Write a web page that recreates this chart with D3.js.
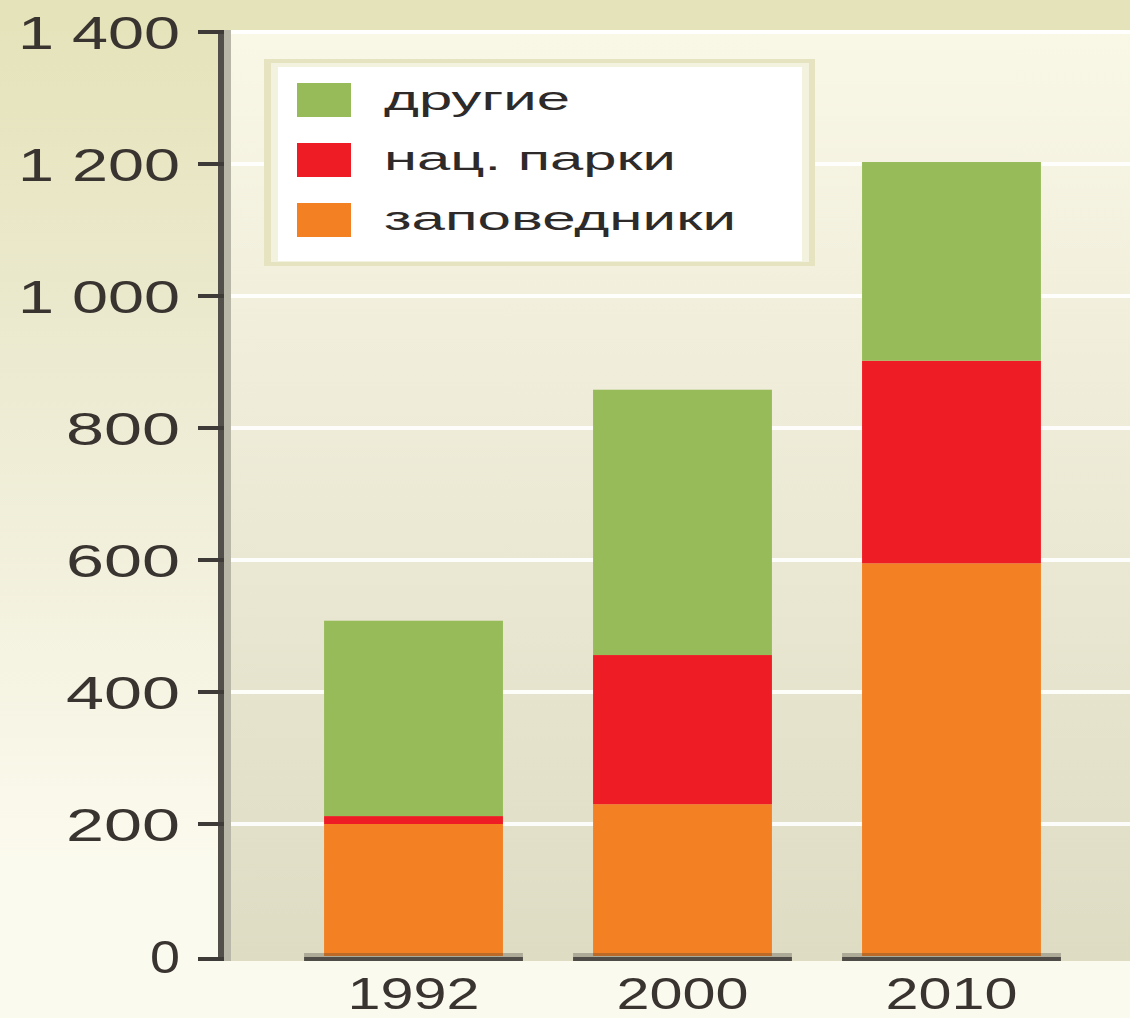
<!DOCTYPE html>
<html><head><meta charset="utf-8">
<script src="https://cdn.jsdelivr.net/npm/d3@7"></script>
<style>html,body{margin:0;padding:0;background:#fbfaee;}svg{display:block;}</style>
</head><body>
<script>
const years = ["1992", "2000", "2010"];
const zapovedniki = [200, 230, 595];
const natParki = [12, 226, 307];
const drugie = [296, 402, 301];
const seriesNames = ["заповедники", "нац. парки", "другие"];
const legendOrder = ["другие", "нац. парки", "заповедники"];
const yTicks = [0, 200, 400, 600, 800, 1000, 1200, 1400];
const yTickLabels = ["0", "200", "400", "600", "800", "1 000", "1 200", "1 400"];

const W = 1130, H = 1018;
const colors = {"заповедники": "#f38123", "нац. парки": "#ee1d25", "другие": "#97bb59"};

const svg = d3.select("body").append("svg").attr("width", W).attr("height", H);
const defs = svg.append("defs");
const gl = defs.append("linearGradient").attr("id", "leftbg").attr("x1", 0).attr("y1", 0).attr("x2", 0).attr("y2", 1);
gl.append("stop").attr("offset", "0").attr("stop-color", "#e5e3b9");
gl.append("stop").attr("offset", "0.35").attr("stop-color", "#ecead0");
gl.append("stop").attr("offset", "0.85").attr("stop-color", "#fbfaee");
gl.append("stop").attr("offset", "1").attr("stop-color", "#fbfaee");
const gp = defs.append("linearGradient").attr("id", "plotbg").attr("x1", 0).attr("y1", 0).attr("x2", 0).attr("y2", 1);
gp.append("stop").attr("offset", "0").attr("stop-color", "#f9f7e6");
gp.append("stop").attr("offset", "0.4").attr("stop-color", "#efecd9");
gp.append("stop").attr("offset", "1").attr("stop-color", "#dedcc3");

// backgrounds
svg.append("rect").attr("x", 0).attr("y", 0).attr("width", W).attr("height", H).attr("fill", "url(#leftbg)");
svg.append("rect").attr("x", 0).attr("y", 0).attr("width", W).attr("height", 30).attr("fill", "#e5e3b9");
svg.append("rect").attr("x", 231).attr("y", 30).attr("width", W - 231).attr("height", 931).attr("fill", "url(#plotbg)");
svg.append("rect").attr("x", 0).attr("y", 961).attr("width", W).attr("height", H - 961).attr("fill", "#fbfaee");

const y = d3.scaleLinear().domain([0, 1400]).range([956, 32]);
const x = d3.scaleBand().domain(years).range([231, 1134]).paddingInner(0.335).paddingOuter(0.346);

// gridlines
svg.append("g").selectAll("line").data(yTicks.filter(d => d > 0)).join("line")
  .attr("x1", 231).attr("x2", W).attr("y1", d => y(d)).attr("y2", d => y(d))
  .attr("stroke", "#ffffff").attr("stroke-opacity", 0.9).attr("stroke-width", 4);

// stacked bars
const table = years.map((yr, i) => ({year: yr, "заповедники": zapovedniki[i], "нац. парки": natParki[i], "другие": drugie[i]}));
const stack = d3.stack().keys(seriesNames)(table);
svg.append("g").selectAll("g").data(stack).join("g").attr("fill", s => colors[s.key])
  .selectAll("rect").data(s => s).join("rect")
  .attr("x", d => x(d.data.year)).attr("width", x.bandwidth())
  .attr("y", d => y(d[1])).attr("height", d => y(d[0]) - y(d[1]));

// base segments under bars
const base = svg.append("g");
base.selectAll("rect.sh").data(years).join("rect").attr("class", "sh")
  .attr("x", d => x(d) - 20).attr("width", x.bandwidth() + 40).attr("y", 953).attr("height", 4)
  .attr("fill", "#3c3833").attr("opacity", 0.3);
base.selectAll("rect.ln").data(years).join("rect").attr("class", "ln")
  .attr("x", d => x(d) - 20).attr("width", x.bandwidth() + 40).attr("y", 957).attr("height", 4)
  .attr("fill", "#4f4b47");

// y axis
svg.append("rect").attr("x", 224).attr("y", 30).attr("width", 7).attr("height", 931).attr("fill", "#b9b7a8");
svg.append("rect").attr("x", 218).attr("y", 30).attr("width", 6).attr("height", 931).attr("fill", "#524f4b");
const yAxis = d3.axisLeft(y).tickValues(yTicks).tickSize(0).tickPadding(0).tickFormat((d, i) => yTickLabels[i]);
const ya = svg.append("g").attr("transform", "translate(180,0)").call(yAxis);
ya.select(".domain").remove();
ya.selectAll("text").attr("font-family", "'Liberation Sans', Arial, sans-serif").attr("font-size", 46)
  .attr("fill", "#3a3430").attr("dy", "0.36em").attr("text-anchor", "end")
  .attr("textLength", (d, i) => { const l = yTickLabels[i].length; return l === 1 ? 30 : (l === 3 ? 114 : 162); })
  .attr("lengthAdjust", "spacingAndGlyphs");
svg.append("g").selectAll("rect").data(yTicks).join("rect")
  .attr("x", 198).attr("width", 26).attr("y", d => (d === 0 ? 957 : y(d) - 2)).attr("height", 4).attr("fill", "#3d3a37");

// x axis labels
const xAxis = d3.axisBottom(x).tickSize(0).tickPadding(0);
const xa = svg.append("g").attr("transform", "translate(0,1009)").call(xAxis);
xa.select(".domain").remove();
xa.selectAll("text").attr("font-family", "'Liberation Sans', Arial, sans-serif").attr("font-size", 44)
  .attr("fill", "#3a3430").attr("dy", 0).attr("y", 0)
  .attr("textLength", 132).attr("lengthAdjust", "spacingAndGlyphs");

// legend
const lg = svg.append("g");
lg.append("rect").attr("x", 264).attr("y", 59).attr("width", 551).attr("height", 207).attr("fill", "#e6e4c0");
lg.append("rect").attr("x", 271).attr("y", 63).attr("width", 538).attr("height", 199).attr("fill", "#f3f2df");
lg.append("rect").attr("x", 278).attr("y", 67).attr("width", 524).attr("height", 194).attr("fill", "#ffffff");
const rowY = d3.scalePoint().domain(legendOrder).range([100, 220]);
const legendWidths = {"другие": 186, "нац. парки": 292, "заповедники": 352};
lg.selectAll("rect.sw").data(legendOrder).join("rect").attr("class", "sw")
  .attr("x", 297).attr("width", 54).attr("y", d => rowY(d) - 17).attr("height", 34).attr("fill", d => colors[d]);
lg.selectAll("text").data(legendOrder).join("text")
  .attr("x", 384).attr("y", d => rowY(d) + 10)
  .attr("font-family", "'Liberation Sans', Arial, sans-serif").attr("font-size", 33).attr("fill", "#2e2a2a")
  .attr("textLength", d => legendWidths[d]).attr("lengthAdjust", "spacingAndGlyphs")
  .text(d => d);
</script>
</body></html>
